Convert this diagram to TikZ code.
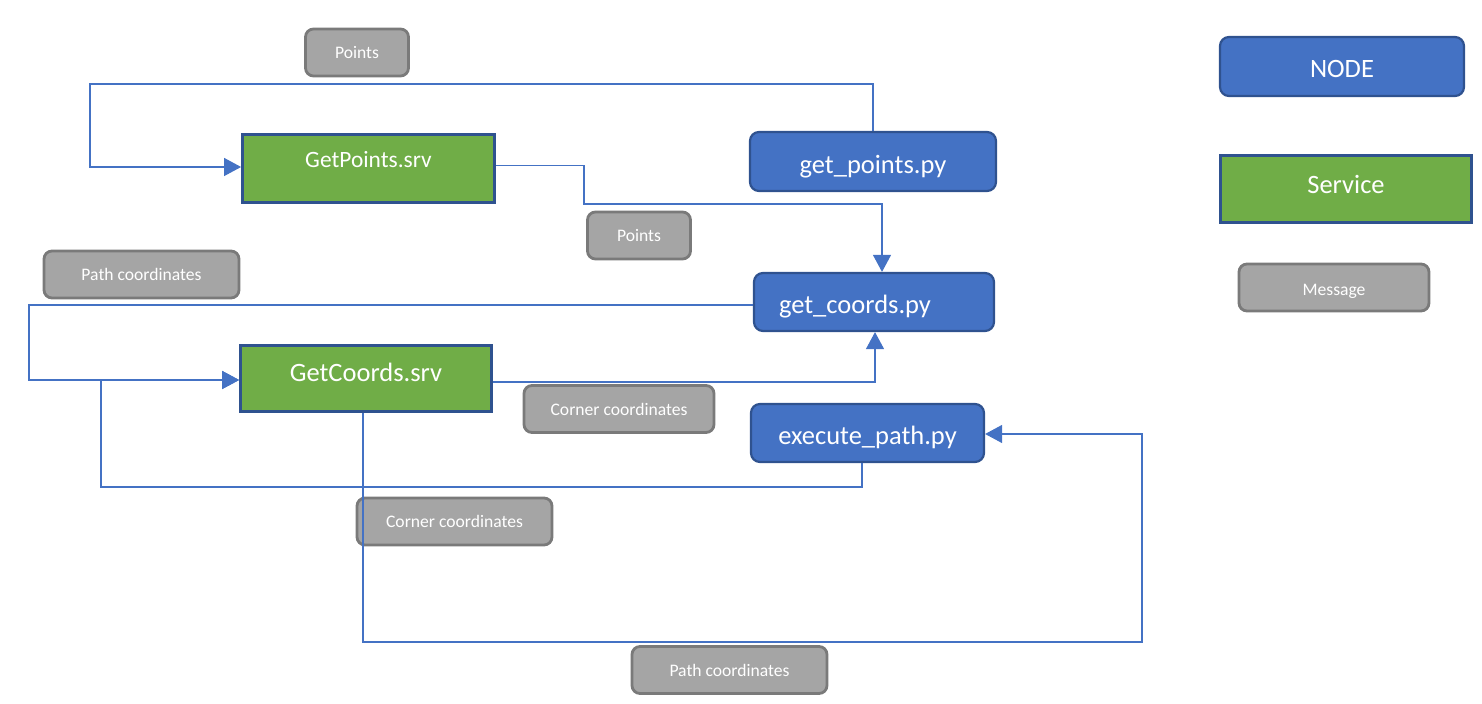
\documentclass[tikz,border=0pt]{standalone}
\usepackage{fontspec}
\setmainfont{Carlito}
\usetikzlibrary{arrows.meta}
\definecolor{nodeblue}{HTML}{4472C4}
\definecolor{nodeedge}{HTML}{2F528F}
\definecolor{srvgreen}{HTML}{70AD47}
\definecolor{msgfill}{HTML}{A5A5A5}
\definecolor{msgedge}{HTML}{7A7A7A}
\definecolor{linkblue}{HTML}{4472C4}
\tikzset{
  rosnode/.style={draw=nodeedge, fill=nodeblue, line width=1.1pt, rounded corners=4.5pt,
    text=white, font=\fontsize{13.25}{15}\selectfont, inner sep=0pt, text depth=8pt},
  srvbox/.style={draw=nodeedge, fill=srvgreen, line width=1.4pt,
    text=white, font=\fontsize{13.25}{15}\selectfont, inner sep=0pt, text depth=8pt},
  msgbox/.style={draw=msgedge, fill=msgfill, line width=1.4pt, rounded corners=4pt,
    text=white, font=\fontsize{8.8}{10}\selectfont, inner sep=0pt,
    minimum width=97.5pt, minimum height=23.5pt},
  conn/.style={draw=linkblue, line width=0.55pt},
  arr/.style={conn, -{Triangle[length=8.5pt, width=9pt]}},
}
\begin{document}
\begin{tikzpicture}[x=0.5pt, y=-0.5pt]
\useasboundingbox (0,0) rectangle (1482,704);

% services
\node[srvbox, minimum width=126pt, minimum height=34pt, text height=7pt,
      font=\fontsize{11.7}{14}\selectfont] (gpsrv) at (368.5,168.5) {GetPoints.srv};
\node[srvbox, minimum width=125.5pt, minimum height=33pt, text height=10.7pt] (gcsrv) at (366,378.5) {GetCoords.srv};

% ROS nodes
\node[rosnode, minimum width=123pt, minimum height=29.5pt, text height=20pt] (gppy) at (873,161.5) {get\_points.py};
\node[rosnode, minimum width=120pt, minimum height=29pt, text height=19.5pt] (gcpy) at (874,302) {\hspace*{-19pt}get\_coords.py};
\node[rosnode, minimum width=116.5pt, minimum height=29pt, text height=19.2pt] (eppy) at (867.5,433) {execute\_path.py};

% messages
\node[msgbox, minimum width=51.5pt] (mp1) at (357,52.5) {Points};
\node[msgbox, minimum width=51.5pt] (mp2) at (639,235.5) {Points};
\node[msgbox] (mpc1) at (141.5,274.5) {Path coordinates};
\node[msgbox, minimum width=95pt] (mcc1) at (619,409) {Corner coordinates};
\node[msgbox] (mcc2) at (454.5,521.5) {Corner coordinates};
\node[msgbox] (mpc2) at (729.5,670) {Path coordinates};

% legend
\node[rosnode, minimum width=122pt, minimum height=29.5pt, text height=19.4pt] (lnode) at (1342,66.5) {NODE};
\node[srvbox, minimum width=125.5pt, minimum height=33.5pt, text height=12.5pt] (lsrv) at (1346,189) {Service};
\node[msgbox, minimum width=95pt, text height=9.7pt, text depth=1.8pt] (lmsg) at (1334,287.5) {Message};

% connectors
\draw[arr] (gppy.north) |- (90,84) |- ([yshift=0.75pt]gpsrv.west);
\draw[arr] ([yshift=1.4pt]gpsrv.east) -| (584,204) -| ([xshift=4pt]gcpy.north);
\draw[arr] ([yshift=-1.5pt]gcpy.west) -| (29,380) -- ([yshift=-0.75pt]gcsrv.west);
\draw[arr] ([xshift=-2.75pt]eppy.south) |- (101,487) |- ([yshift=-0.75pt]gcsrv.west);
\draw[arr] ([yshift=-1.75pt]gcsrv.east) -| ([xshift=0.5pt]gcpy.south);
\draw[arr] ([xshift=-1.5pt]gcsrv.south) |- (1142,642) |- ([yshift=-0.5pt]eppy.east);
\end{tikzpicture}
\end{document}
